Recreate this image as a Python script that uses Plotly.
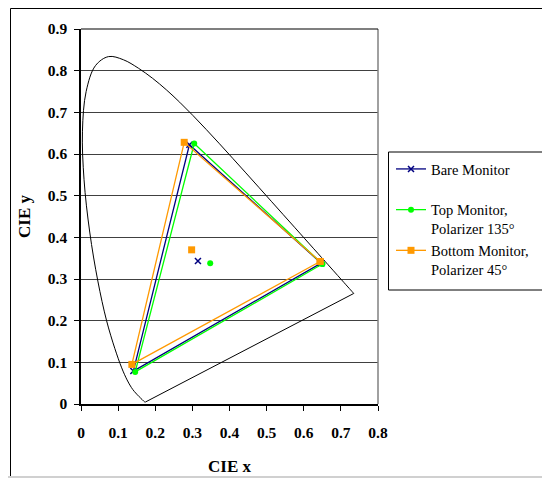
import plotly.graph_objects as go

# CIE 1931 spectral locus (x, y), 380-700 nm
locus_x = [0.1741, 0.1738, 0.1733, 0.1726, 0.1714, 0.1689, 0.1644, 0.1566, 0.1440, 0.1355,
           0.1241, 0.1096, 0.0913, 0.0687, 0.0454, 0.0235, 0.0082, 0.0039, 0.0139, 0.0389,
           0.0743, 0.1142, 0.1547, 0.1929, 0.2296, 0.2658, 0.3016, 0.3373, 0.3731, 0.4087,
           0.4441, 0.4788, 0.5125, 0.5448, 0.5752, 0.6029, 0.6270, 0.6482, 0.6658, 0.6915,
           0.7079, 0.7190, 0.7260, 0.7300, 0.7334, 0.7347]
locus_y = [0.0050, 0.0049, 0.0048, 0.0048, 0.0051, 0.0069, 0.0109, 0.0177, 0.0297, 0.0399,
           0.0578, 0.0868, 0.1327, 0.2007, 0.2950, 0.4127, 0.5384, 0.6548, 0.7502, 0.8120,
           0.8338, 0.8262, 0.8059, 0.7816, 0.7543, 0.7243, 0.6923, 0.6589, 0.6245, 0.5896,
           0.5547, 0.5202, 0.4866, 0.4544, 0.4242, 0.3965, 0.3725, 0.3514, 0.3340, 0.3083,
           0.2920, 0.2809, 0.2740, 0.2700, 0.2666, 0.2653]
# purple line (700 nm back to 380 nm)
purple_x = [0.7347, 0.1741]
purple_y = [0.2653, 0.0050]

# Triangles (R, G, B, R), gap, white point
bare_x = [0.647, 0.292, 0.141, 0.647, None, 0.315]
bare_y = [0.338, 0.622, 0.079, 0.338, None, 0.343]
top_x = [0.650, 0.305, 0.146, 0.650, None, 0.348]
top_y = [0.336, 0.625, 0.077, 0.336, None, 0.338]
bottom_x = [0.644, 0.278, 0.137, 0.644, None, 0.298]
bottom_y = [0.342, 0.628, 0.095, 0.342, None, 0.370]

series_names = ["Bare Monitor<br> ", "Top Monitor,<br>Polarizer 135°", "Bottom Monitor,<br>Polarizer 45°"]
x_ticks = [0, 0.1, 0.2, 0.3, 0.4, 0.5, 0.6, 0.7, 0.8]
y_ticks = [0, 0.1, 0.2, 0.3, 0.4, 0.5, 0.6, 0.7, 0.8, 0.9]

FONT = "Liberation Serif, Times New Roman, serif"

fig = go.Figure()
fig.add_trace(go.Scatter(x=locus_x, y=locus_y, mode="lines",
                         line=dict(color="black", width=1, shape="spline", smoothing=1.0),
                         showlegend=False, hoverinfo="skip"))
fig.add_trace(go.Scatter(x=purple_x, y=purple_y, mode="lines",
                         line=dict(color="black", width=1), showlegend=False, hoverinfo="skip"))
fig.add_trace(go.Scatter(x=bare_x, y=bare_y, mode="lines+markers", name=series_names[0],
                         line=dict(color="#000080", width=1.3), connectgaps=False,
                         marker=dict(symbol="x-thin", size=6, line=dict(color="#000080", width=1.5))))
fig.add_trace(go.Scatter(x=top_x, y=top_y, mode="lines+markers", name=series_names[1],
                         line=dict(color="#00FF00", width=1.3), connectgaps=False,
                         marker=dict(symbol="circle", size=6, color="#00FF00")))
fig.add_trace(go.Scatter(x=bottom_x, y=bottom_y, mode="lines+markers", name=series_names[2],
                         line=dict(color="#FF9900", width=1.3), connectgaps=False,
                         marker=dict(symbol="square", size=7, color="#FF9900")))

# The page body has an 8px margin: figure is placed at (8, 8) in the window.
OFF = 8
W, H = 550 - OFF, 479 - OFF
# plot area in window pixels: l=81, r=378, t=29, b=404
L, R, T, B = 81 - OFF, 378 - OFF, 29 - OFF, 404 - OFF
def px(xs):
    return (xs - OFF - L) / (R - L)
def py(ys):
    return (B - (ys - OFF)) / (B - T)

fig.update_layout(
    width=W, height=H,
    margin=dict(l=L, r=W - R, t=T, b=H - B, pad=0, autoexpand=False),
    paper_bgcolor="white", plot_bgcolor="white",
    font=dict(family=FONT, size=14, color="black"),
    legend=dict(x=px(391), y=py(153), xanchor="left", yanchor="top",
                borderwidth=0, bgcolor="rgba(0,0,0,0)",
                font=dict(family=FONT, size=14.5, color="black"),
                valign="top", itemwidth=30, tracegroupgap=0),
    xaxis=dict(range=[0, 0.8], tickvals=x_ticks, ticktext=[f"{v:g}" for v in x_ticks],
               automargin=False,
               showgrid=False, zeroline=False, showline=True, linecolor="black", linewidth=1.5,
               ticks="outside", ticklen=5, tickcolor="black",
               tickfont=dict(family=FONT, size=15.5, color="black", weight="bold"),
               ticklabelstandoff=9,
               title=dict(text="<b>CIE x</b>", font=dict(family=FONT, size=17), standoff=20)),
    yaxis=dict(range=[0, 0.9], tickvals=y_ticks, ticktext=[f"{v:g}" for v in y_ticks],
               automargin=False,
               showgrid=True, gridcolor="#404040", gridwidth=1,
               zeroline=False, showline=True, linecolor="black", linewidth=1.5,
               ticks="outside", ticklen=5, tickcolor="black",
               tickfont=dict(family=FONT, size=15.5, color="black", weight="bold"),
               ticklabelstandoff=4,
               title=dict(text="<b>CIE y</b>", font=dict(family=FONT, size=17), standoff=13)),
    shapes=[
        # plot-area right and top border
        dict(type="line", xref="paper", yref="paper", x0=1, x1=1, y0=0, y1=1,
             line=dict(color="#808080", width=1.5)),
        dict(type="line", xref="paper", yref="paper", x0=0, x1=1, y0=1, y1=1,
             line=dict(color="black", width=1.2)),
        # legend box
        dict(type="rect", xref="paper", yref="paper", x0=px(388.5), x1=px(547), y0=py(152), y1=py(290),
             line=dict(color="black", width=1), fillcolor="rgba(0,0,0,0)", layer="below"),
        # outer chart frame
        dict(type="line", xref="paper", yref="paper", x0=px(10.5), x1=px(10.5), y0=py(8.5), y1=py(477),
             line=dict(color="black", width=1)),
        dict(type="line", xref="paper", yref="paper", x0=px(10.5), x1=px(549), y0=py(8.5), y1=py(8.5),
             line=dict(color="black", width=1)),
        dict(type="line", xref="paper", yref="paper", x0=px(8), x1=px(550), y0=py(477), y1=py(477),
             line=dict(color="#D0D0D0", width=2)),
    ],
)

fig.write_html("out.html")
